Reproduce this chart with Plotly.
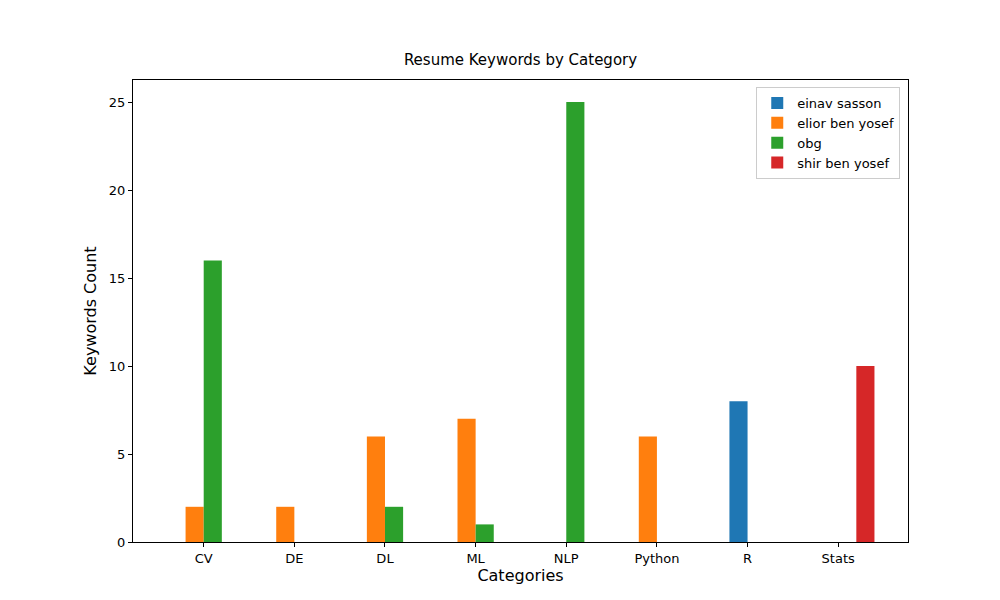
import plotly.graph_objects as go

categories = ["CV", "DE", "DL", "ML", "NLP", "Python", "R", "Stats"]
einav = [0, 0, 0, 0, 0, 0, 8, 0]
elior = [2, 2, 6, 7, 0, 6, 0, 0]
obg = [16, 0, 2, 1, 25, 0, 0, 0]
shir = [0, 0, 0, 0, 0, 0, 0, 10]

series = [
    ("einav sasson", einav, "#1f77b4", -0.1),
    ("elior ben yosef", elior, "#ff7f0e", -0.1),
    ("obg", obg, "#2ca02c", 0.1),
    ("shir ben yosef", shir, "#d62728", 0.3),
]

fig = go.Figure()
for name, vals, color, off in series:
    fig.add_trace(go.Bar(
        x=[i + off for i in range(len(categories))], y=vals, name=name,
        width=0.2, marker=dict(color=color, line=dict(width=0)),
    ))

axis_common = dict(showline=True, linecolor="black", mirror=True, ticks="outside",
                   ticklen=4, tickcolor="black", showgrid=False, zeroline=False)
fig.update_layout(
    width=1000, height=600, barmode="overlay", plot_bgcolor="white", paper_bgcolor="white",
    font=dict(family="DejaVu Sans", size=13, color="black"),
    margin=dict(l=125, r=100, t=72, b=66),
    title=dict(text="Resume Keywords by Category", x=0.5125, xanchor="center", y=0.905, yanchor="bottom",
               font=dict(size=15)),
    xaxis=dict(range=[-0.78, 7.77], tickvals=list(range(len(categories))), ticktext=categories,
               title=dict(text="Categories", standoff=4), **axis_common),
    yaxis=dict(range=[0, 26.25], tickvals=[0, 5, 10, 15, 20, 25],
               title=dict(text="Keywords Count", standoff=8), **axis_common),
    legend=dict(x=0.99, y=0.985, xanchor="right", yanchor="top", bordercolor="#cccccc",
                borderwidth=1, bgcolor="white", font=dict(size=13)),
)
fig.write_html("out.html")
